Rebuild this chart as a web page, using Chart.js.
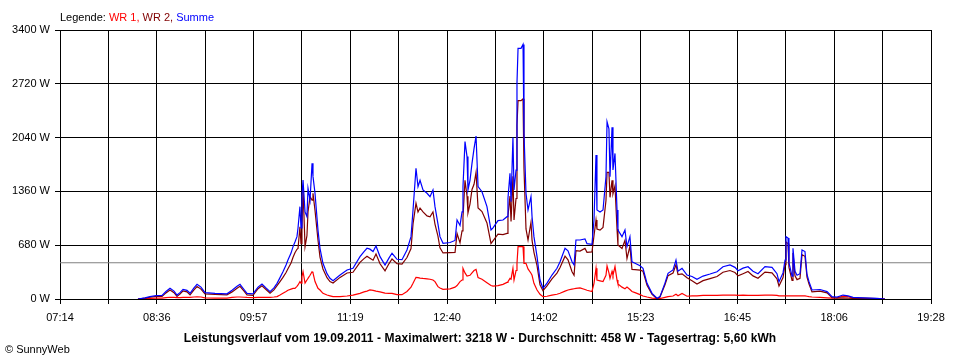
<!DOCTYPE html>
<html><head><meta charset="utf-8">
<script src="https://cdn.jsdelivr.net/npm/chart.js@4/dist/chart.umd.min.js"></script>
<style>html,body{margin:0;padding:0;background:#fff;}canvas{display:block;}</style>
</head><body>
<canvas id="c" width="960" height="360"></canvas>
<script>
// time of each sample, minutes since midnight
const timeMin = [
499.7,505.6,509.8,514.9,520.0,523.3,526.7,530.1,532.6,535.1,
537.7,541.0,543.6,546.9,549.5,552.8,556.2,564.6,574.7,579.0,
583.2,585.7,589.1,591.6,596.6,600.9,604.2,607.6,611.0,614.3,
616.9,619.4,621.9,624.5,626.1,628.7,630.4,632.0,633.7,634.6,
636.2,637.1,637.9,638.8,640.5,642.1,643.0,644.7,646.4,647.2,
648.9,651.4,653.1,655.6,659.0,661.5,664.1,670.0,675.9,680.9,
686.8,690.2,692.7,695.2,697.8,700.3,703.7,707.9,711.3,713.8,
718.0,722.2,726.4,729.8,731.5,734.0,735.7,737.4,739.9,743.3,
745.8,748.3,750.0,752.5,754.2,756.8,762.7,766.9,768.6,771.1,
772.8,773.6,775.3,777.0,777.8,779.5,781.2,782.9,784.6,786.3,
789.6,793.8,797.2,798.9,803.1,807.3,810.7,811.5,813.2,814.1,
815.7,816.6,818.3,819.1,820.0,822.5,824.2,825.0,826.7,828.4,
830.9,831.8,833.4,836.0,838.5,841.0,844.4,848.6,852.8,855.4,
859.6,862.1,865.5,867.2,868.8,872.2,876.4,878.1,882.3,884.0,
885.7,886.5,889.1,891.6,894.1,895.0,896.6,897.5,899.2,900.0,
901.7,903.4,904.2,907.6,910.1,911.8,914.3,916.0,918.6,922.8,
925.3,928.7,932.9,937.1,939.6,943.8,946.4,950.6,953.1,954.8,
958.2,962.4,966.6,970.8,975.9,981.8,987.7,992.7,998.6,1002.8,
1005.4,1009.6,1013.8,1018.0,1022.2,1028.1,1034.0,1038.2,1039.9,1043.3,
1045.0,1045.8,1047.5,1048.3,1050.9,1051.7,1053.4,1055.1,1057.6,1059.3,
1061.8,1063.5,1065.2,1067.7,1074.5,1080.4,1084.6,1088.8,1093.8,1098.1,
1102.3,1110.7,1122.5,1129.2
];
// WR 1 (W)
const wr1 = [
0,5,8,10,12,18,22,20,18,18,
20,20,20,25,28,25,15,12,12,20,
25,25,22,20,18,20,22,20,20,25,
30,50,72,95,110,125,135,135,160,177,
220,200,282,345,200,240,260,300,345,330,
220,135,114,72,50,40,30,30,38,50,
72,90,100,114,110,100,90,75,72,72,
55,55,95,150,198,274,270,265,260,255,
250,240,220,156,140,122,128,150,170,220,
240,388,330,290,290,300,330,360,375,270,
250,205,170,164,170,185,210,220,260,250,
388,240,360,450,662,662,662,450,451,380,
325,300,198,114,60,30,35,50,60,72,
100,114,125,130,135,140,120,110,95,198,
388,240,230,220,300,417,330,260,350,300,
410,240,190,150,130,150,120,95,80,55,
38,25,12,5,5,20,30,38,60,40,
70,35,40,40,45,45,45,50,50,50,
45,50,45,45,45,50,50,45,40,40,
40,40,40,40,40,40,40,40,40,40,
40,35,30,25,20,15,12,15,35,30,
12,5,2,0
];
// WR 2 (W)
const wr2 = [
0,10,22,32,33,77,113,80,32,62,
102,90,52,115,158,125,65,58,53,90,
135,161,98,52,47,130,168,120,73,115,
168,220,273,335,383,455,527,585,628,640,
914,700,900,1400,662,800,1100,1294,1250,1336,
1120,745,530,379,270,221,202,273,329,338,
463,510,541,516,490,570,445,355,448,506,
447,442,524,638,950,1210,1100,1150,1100,1050,
1040,1100,947,794,648,582,586,590,828,710,
860,1032,1500,1300,1088,1200,1385,1450,1600,1150,
1106,962,702,736,820,813,830,1050,1300,980,
1550,1000,1270,2200,2507,2507,2530,1650,885,745,
969,740,590,421,180,105,165,253,328,398,
541,496,345,300,611,606,640,590,595,800,
1000,885,870,905,1245,1600,1600,1285,1500,1330,
1430,885,682,638,742,512,668,375,371,365,
350,173,60,4,25,180,295,329,433,310,
318,268,230,190,232,258,285,338,360,335,
293,320,348,292,262,340,330,255,165,272,
433,720,700,400,235,580,292,245,262,560,
540,275,189,89,100,78,18,10,15,10,
8,10,6,0
];
// Summe (W)
const summe = [
0,15,30,42,45,95,135,100,50,80,
122,110,72,140,186,150,80,70,65,110,
160,186,120,72,65,150,190,140,93,140,
198,270,345,430,493,580,662,720,788,900,
1167,900,1300,1504,1100,1040,1400,1250,1715,1550,
1336,872,641,451,320,261,232,303,367,388,
535,600,641,630,600,670,535,430,520,578,
502,497,619,788,1125,1652,1420,1500,1378,1336,
1294,1378,1167,950,788,704,714,740,998,930,
1100,1420,1989,1800,1378,1500,1715,1900,2060,1420,
1356,1167,872,900,990,998,1040,1270,1589,1230,
2040,1378,1630,2726,3169,3169,3218,2094,1336,1125,
1294,1040,788,535,240,135,200,303,388,470,
641,610,470,430,746,746,760,700,690,998,
1820,1125,1100,1125,1545,2240,2150,1545,2170,1630,
1840,1125,872,788,872,662,788,470,451,420,
388,198,72,9,30,200,325,367,493,350,
388,303,285,248,290,316,345,408,430,400,
358,390,408,350,320,410,400,320,219,330,
493,788,770,460,290,641,350,300,320,620,
600,310,219,114,120,93,30,25,50,40,
20,15,8,0
];
const xTickLabels = ['07:14','08:36','09:57','11:19','12:40','14:02','15:23','16:45','18:06','19:28'];
const yTickValues = [0,680,1360,2040,2720,3400];
const averageW = 458;
const xMin = 434, xMax = 1168;
const legendParts = [['Legende: ','#000000'],['WR 1, ','#ff0000'],['WR 2, ','#800000'],['Summe','#0000ff']];
const titleText = 'Leistungsverlauf vom 19.09.2011 - Maximalwert: 3218 W - Durchschnitt: 458 W - Tagesertrag: 5,60 kWh';
const copyrightText = '\u00A9 SunnyWeb';

const FONT = 'Liberation Sans, Arial, sans-serif';
const toXY = arr => arr.map((v, i) => ({x: timeMin[i], y: v}));
const lineDs = (label, arr, color, order) => ({
  label, data: toXY(arr), borderColor: color, backgroundColor: color,
  borderWidth: 1.2, pointRadius: 0, tension: 0, fill: false, order
});

const textPlugin = {
  id: 'texts',
  beforeDraw(chart) {
    const c = chart.ctx;
    c.save(); c.fillStyle = '#fff'; c.fillRect(0, 0, chart.width, chart.height); c.restore();
  },
  afterDraw(chart) {
    const c = chart.ctx;
    c.save();
    c.textBaseline = 'alphabetic';
    c.font = '11px ' + FONT;
    let x = 60;
    for (const [t, col] of legendParts) {
      c.fillStyle = col; c.fillText(t, x, 21);
      x += c.measureText(t).width;
    }
    c.fillStyle = '#000';
    c.font = 'bold 12px ' + FONT;
    c.textAlign = 'center';
    if ('letterSpacing' in c) c.letterSpacing = '0.1px';
    c.fillText(titleText, 480, 342);
    if ('letterSpacing' in c) c.letterSpacing = '0px';
    c.textAlign = 'left';
    c.font = '11px ' + FONT;
    c.fillText(copyrightText, 5, 353);
    c.restore();
  }
};

new Chart(document.getElementById('c'), {
  type: 'line',
  data: { datasets: [
    { label: 'Durchschnitt', data: [{x: xMin, y: averageW}, {x: xMax, y: averageW}],
      borderColor: '#808080', borderWidth: 1, pointRadius: 0, order: 10 },
    lineDs('WR 1', wr1, '#ff0000', 3),
    lineDs('WR 2', wr2, '#800000', 2),
    lineDs('Summe', summe, '#0000ff', 1)
  ]},
  plugins: [textPlugin],
  options: {
    responsive: false, animation: false, events: [],
    layout: { padding: { left: 0, right: 29, top: 30, bottom: 0 } },
    plugins: { legend: { display: false }, tooltip: { enabled: false } },
    scales: {
      x: {
        type: 'linear', min: xMin, max: xMax,
        afterBuildTicks: s => {
          const n = (xTickLabels.length - 1) * 2;
          s.ticks = [];
          for (let i = 0; i <= n; i++) s.ticks.push({ value: xMin + i * (xMax - xMin) / n });
        },
        afterFit: s => { s.height = 61; },
        ticks: { autoSkip: false, maxRotation: 0, minRotation: 0, color: '#000', padding: 7,
          font: { family: FONT, size: 11 },
          callback: (v, i) => (i % 2 === 0 ? xTickLabels[i / 2] : '') },
        grid: { color: '#000', lineWidth: 1, tickLength: 5, drawTicks: true },
        border: { color: '#000', width: 1 }
      },
      y: {
        min: 0, max: 3400,
        afterBuildTicks: s => { s.ticks = yTickValues.map(v => ({ value: v })); },
        afterFit: s => { s.width = 60; },
        ticks: { color: '#000', padding: 5, font: { family: FONT, size: 11 },
          callback: v => v + ' W' },
        grid: { color: '#000', lineWidth: 1, tickLength: 5, drawTicks: true },
        border: { color: '#000', width: 1 }
      }
    }
  }
});
</script>
</body></html>
